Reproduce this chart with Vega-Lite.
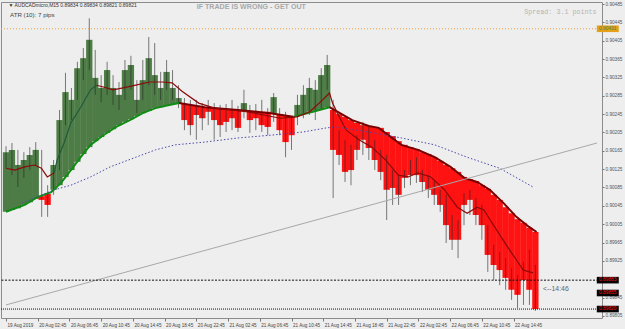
{
  "$schema": "https://vega.github.io/schema/vega-lite/v6.json",
  "width": 601,
  "height": 316,
  "autosize": "none",
  "padding": {"left": 1, "top": 2, "right": 23, "bottom": 11},
  "background": "#EEEEEE",
  "config": {
    "view": {"stroke": "#8C8C8C", "strokeWidth": 1, "fill": "#EEEEEE"},
    "font": "Liberation Sans",
    "axis": {"labelOverlap": false, "labelFlush": false, "domain": false, "grid": false, "title": null, "tickColor": "#777777", "labelBound": false, "tickCount": 100},
    "axisX": {"tickSize": 3, "labelFontSize": 4.6, "labelColor": "#444444", "labelAlign": "left", "labelOffset": 1, "labelPadding": 1},
    "axisY": {"tickSize": 2, "labelFontSize": 4.7, "labelColor": "#555555", "labelPadding": 1}
  },
  "datasets": {
    "candles": [
      {"t":0,"close":0.90162,"high":0.90175,"low":0.90127,"slow":0.90032,"dir":"up"},
      {"t":0.75,"close":0.90167,"high":0.90182,"low":0.90112,"slow":0.90036,"dir":"up"},
      {"t":1.5,"close":0.90134,"high":0.90167,"low":0.90086,"slow":0.90040,"dir":"up"},
      {"t":2.25,"close":0.90145,"high":0.90162,"low":0.90106,"slow":0.90047,"dir":"up"},
      {"t":3,"close":0.90156,"high":0.90173,"low":0.90123,"slow":0.90053,"dir":"up"},
      {"t":3.75,"close":0.90167,"high":0.90184,"low":0.90134,"slow":0.90060,"dir":"up"},
      {"t":4.5,"close":0.90058,"high":0.90167,"low":0.90021,"slow":0.90066,"dir":"down"},
      {"t":5.25,"close":0.90047,"high":0.90090,"low":0.90021,"slow":0.90071,"dir":"down"},
      {"t":6,"close":0.90134,"high":0.90145,"low":0.90069,"slow":0.90080,"dir":"up"},
      {"t":6.75,"close":0.90232,"high":0.90254,"low":0.90123,"slow":0.90090,"dir":"up"},
      {"t":7.5,"close":0.90293,"high":0.90335,"low":0.90221,"slow":0.90108,"dir":"up"},
      {"t":8.25,"close":0.90276,"high":0.90302,"low":0.90232,"slow":0.90123,"dir":"up"},
      {"t":9,"close":0.90345,"high":0.90359,"low":0.90276,"slow":0.90141,"dir":"up"},
      {"t":9.75,"close":0.90367,"high":0.90389,"low":0.90319,"slow":0.90158,"dir":"up"},
      {"t":10.5,"close":0.90407,"high":0.90454,"low":0.90341,"slow":0.90173,"dir":"up"},
      {"t":11.25,"close":0.90324,"high":0.90385,"low":0.90287,"slow":0.90186,"dir":"up"},
      {"t":12,"close":0.90302,"high":0.90330,"low":0.90271,"slow":0.90195,"dir":"up"},
      {"t":12.75,"close":0.90341,"high":0.90359,"low":0.90287,"slow":0.90204,"dir":"up"},
      {"t":13.5,"close":0.90302,"high":0.90330,"low":0.90265,"slow":0.90212,"dir":"up"},
      {"t":14.25,"close":0.90287,"high":0.90315,"low":0.90254,"slow":0.90221,"dir":"up"},
      {"t":15,"close":0.90341,"high":0.90363,"low":0.90276,"slow":0.90228,"dir":"up"},
      {"t":15.75,"close":0.90352,"high":0.90372,"low":0.90298,"slow":0.90234,"dir":"up"},
      {"t":16.5,"close":0.90276,"high":0.90319,"low":0.90247,"slow":0.90241,"dir":"up"},
      {"t":17.25,"close":0.90319,"high":0.90363,"low":0.90276,"slow":0.90247,"dir":"up"},
      {"t":18,"close":0.90367,"high":0.90413,"low":0.90308,"slow":0.90252,"dir":"up"},
      {"t":18.75,"close":0.90330,"high":0.90400,"low":0.90287,"slow":0.90258,"dir":"up"},
      {"t":19.5,"close":0.90302,"high":0.90337,"low":0.90276,"slow":0.90260,"dir":"up"},
      {"t":20.25,"close":0.90337,"high":0.90363,"low":0.90298,"slow":0.90263,"dir":"up"},
      {"t":21,"close":0.90302,"high":0.90341,"low":0.90276,"slow":0.90267,"dir":"up"},
      {"t":21.75,"close":0.90280,"high":0.90308,"low":0.90258,"slow":0.90269,"dir":"up"},
      {"t":22.5,"close":0.90232,"high":0.90280,"low":0.90210,"slow":0.90267,"dir":"down"},
      {"t":23.25,"close":0.90221,"high":0.90276,"low":0.90199,"slow":0.90265,"dir":"down"},
      {"t":24,"close":0.90243,"high":0.90276,"low":0.90189,"slow":0.90263,"dir":"down"},
      {"t":24.75,"close":0.90236,"high":0.90269,"low":0.90210,"slow":0.90260,"dir":"down"},
      {"t":25.5,"close":0.90250,"high":0.90276,"low":0.90221,"slow":0.90260,"dir":"down"},
      {"t":26.25,"close":0.90232,"high":0.90269,"low":0.90189,"slow":0.90258,"dir":"down"},
      {"t":27,"close":0.90221,"high":0.90265,"low":0.90195,"slow":0.90258,"dir":"down"},
      {"t":27.75,"close":0.90228,"high":0.90267,"low":0.90206,"slow":0.90256,"dir":"down"},
      {"t":28.5,"close":0.90236,"high":0.90276,"low":0.90210,"slow":0.90256,"dir":"down"},
      {"t":29.25,"close":0.90215,"high":0.90263,"low":0.90206,"slow":0.90254,"dir":"down"},
      {"t":30,"close":0.90269,"high":0.90298,"low":0.90236,"slow":0.90254,"dir":"up"},
      {"t":30.75,"close":0.90232,"high":0.90265,"low":0.90204,"slow":0.90252,"dir":"down"},
      {"t":31.5,"close":0.90236,"high":0.90267,"low":0.90210,"slow":0.90252,"dir":"down"},
      {"t":32.25,"close":0.90221,"high":0.90276,"low":0.90206,"slow":0.90250,"dir":"down"},
      {"t":33,"close":0.90217,"high":0.90258,"low":0.90199,"slow":0.90250,"dir":"down"},
      {"t":33.75,"close":0.90282,"high":0.90291,"low":0.90228,"slow":0.90247,"dir":"up"},
      {"t":34.5,"close":0.90210,"high":0.90258,"low":0.90199,"slow":0.90245,"dir":"down"},
      {"t":35.25,"close":0.90184,"high":0.90250,"low":0.90151,"slow":0.90243,"dir":"down"},
      {"t":36,"close":0.90199,"high":0.90236,"low":0.90167,"slow":0.90239,"dir":"down"},
      {"t":36.75,"close":0.90265,"high":0.90287,"low":0.90221,"slow":0.90241,"dir":"up"},
      {"t":37.5,"close":0.90287,"high":0.90308,"low":0.90236,"slow":0.90245,"dir":"up"},
      {"t":38.25,"close":0.90302,"high":0.90324,"low":0.90243,"slow":0.90250,"dir":"up"},
      {"t":39,"close":0.90298,"high":0.90319,"low":0.90232,"slow":0.90252,"dir":"up"},
      {"t":39.75,"close":0.90330,"high":0.90345,"low":0.90254,"slow":0.90256,"dir":"up"},
      {"t":40.5,"close":0.90352,"high":0.90374,"low":0.90298,"slow":0.90260,"dir":"up"},
      {"t":41.25,"close":0.90167,"high":0.90276,"low":0.90062,"slow":0.90254,"dir":"down"},
      {"t":42,"close":0.90156,"high":0.90210,"low":0.90134,"slow":0.90245,"dir":"down"},
      {"t":42.75,"close":0.90119,"high":0.90189,"low":0.90097,"slow":0.90239,"dir":"down"},
      {"t":43.5,"close":0.90123,"high":0.90178,"low":0.90090,"slow":0.90232,"dir":"down"},
      {"t":44.25,"close":0.90167,"high":0.90199,"low":0.90145,"slow":0.90226,"dir":"down"},
      {"t":45,"close":0.90189,"high":0.90228,"low":0.90156,"slow":0.90221,"dir":"down"},
      {"t":45.75,"close":0.90171,"high":0.90221,"low":0.90145,"slow":0.90219,"dir":"down"},
      {"t":46.5,"close":0.90145,"high":0.90189,"low":0.90123,"slow":0.90217,"dir":"down"},
      {"t":47.25,"close":0.90119,"high":0.90167,"low":0.90101,"slow":0.90215,"dir":"down"},
      {"t":48,"close":0.90080,"high":0.90156,"low":0.90014,"slow":0.90206,"dir":"down"},
      {"t":48.75,"close":0.90084,"high":0.90123,"low":0.90047,"slow":0.90197,"dir":"down"},
      {"t":49.5,"close":0.90069,"high":0.90112,"low":0.90047,"slow":0.90186,"dir":"down"},
      {"t":50.25,"close":0.90106,"high":0.90123,"low":0.90084,"slow":0.90178,"dir":"down"},
      {"t":51,"close":0.90112,"high":0.90145,"low":0.90090,"slow":0.90173,"dir":"down"},
      {"t":51.75,"close":0.90112,"high":0.90151,"low":0.90095,"slow":0.90169,"dir":"down"},
      {"t":52.5,"close":0.90097,"high":0.90123,"low":0.90075,"slow":0.90162,"dir":"down"},
      {"t":53.25,"close":0.90080,"high":0.90112,"low":0.90062,"slow":0.90158,"dir":"down"},
      {"t":54,"close":0.90069,"high":0.90101,"low":0.90047,"slow":0.90151,"dir":"down"},
      {"t":54.75,"close":0.90047,"high":0.90080,"low":0.90032,"slow":0.90143,"dir":"down"},
      {"t":55.5,"close":0.90003,"high":0.90069,"low":0.89964,"slow":0.90134,"dir":"down"},
      {"t":56.25,"close":0.89971,"high":0.90025,"low":0.89949,"slow":0.90127,"dir":"down"},
      {"t":57,"close":0.89971,"high":0.90014,"low":0.89931,"slow":0.90119,"dir":"down"},
      {"t":57.75,"close":0.90047,"high":0.90073,"low":0.90003,"slow":0.90108,"dir":"down"},
      {"t":58.5,"close":0.90058,"high":0.90080,"low":0.90025,"slow":0.90103,"dir":"down"},
      {"t":59.25,"close":0.90025,"high":0.90062,"low":0.90003,"slow":0.90099,"dir":"down"},
      {"t":60,"close":0.90003,"high":0.90047,"low":0.89971,"slow":0.90090,"dir":"down"},
      {"t":60.75,"close":0.89938,"high":0.90003,"low":0.89901,"slow":0.90082,"dir":"down"},
      {"t":61.5,"close":0.89916,"high":0.89960,"low":0.89883,"slow":0.90069,"dir":"down"},
      {"t":62.25,"close":0.89905,"high":0.89944,"low":0.89872,"slow":0.90058,"dir":"down"},
      {"t":63,"close":0.89888,"high":0.89931,"low":0.89862,"slow":0.90042,"dir":"down"},
      {"t":63.75,"close":0.89862,"high":0.89909,"low":0.89840,"slow":0.90029,"dir":"down"},
      {"t":64.5,"close":0.89851,"high":0.89894,"low":0.89822,"slow":0.90016,"dir":"down"},
      {"t":65.25,"close":0.89883,"high":0.89923,"low":0.89829,"slow":0.90008,"dir":"down"},
      {"t":66,"close":0.89862,"high":0.89949,"low":0.89829,"slow":0.89997,"dir":"down"},
      {"t":66.75,"close":0.89820,"high":0.89916,"low":0.89816,"slow":0.89988,"dir":"down"}
    ],
    "slowUp": [
      {"t":0,"p":0.90032,"seg":"a"},{"t":2.36,"p":0.90047,"seg":"a"},{"t":3.97,"p":0.90064,"seg":"a"},
      {"t":5.70,"p":0.90075,"seg":"a"},{"t":6.94,"p":0.90095,"seg":"a"},{"t":8.18,"p":0.90123,"seg":"a"},
      {"t":9.42,"p":0.90151,"seg":"a"},{"t":10.66,"p":0.90178,"seg":"a"},{"t":12.28,"p":0.90199,"seg":"a"},
      {"t":13.89,"p":0.90217,"seg":"a"},{"t":15.62,"p":0.90232,"seg":"a"},{"t":17.24,"p":0.90247,"seg":"a"},
      {"t":18.85,"p":0.90258,"seg":"a"},{"t":20.58,"p":0.90265,"seg":"a"},{"t":21.82,"p":0.90269,"seg":"a"},
      {"t":36.21,"p":0.90239,"seg":"c"},{"t":38.69,"p":0.90250,"seg":"c"},{"t":40.79,"p":0.90260,"seg":"c"}
    ],
    "slowDown": [
      {"t":21.82,"p":0.90269,"seg":"b"},{"t":25.05,"p":0.90260,"seg":"b"},{"t":29.26,"p":0.90254,"seg":"b"},
      {"t":33.35,"p":0.90247,"seg":"b"},{"t":36.21,"p":0.90239,"seg":"b"},
      {"t":40.79,"p":0.90260,"seg":"d"},{"t":43.65,"p":0.90232,"seg":"d"},{"t":45.75,"p":0.90219,"seg":"d"},
      {"t":46.99,"p":0.90215,"seg":"d"},{"t":49.85,"p":0.90178,"seg":"d"},{"t":51.95,"p":0.90167,"seg":"d"},
      {"t":54.06,"p":0.90151,"seg":"d"},{"t":56.04,"p":0.90130,"seg":"d"},{"t":57.78,"p":0.90106,"seg":"d"},
      {"t":59.39,"p":0.90097,"seg":"d"},{"t":61.0,"p":0.90080,"seg":"d"},{"t":62.74,"p":0.90051,"seg":"d"},
      {"t":64.35,"p":0.90021,"seg":"d"},{"t":65.96,"p":0.89999,"seg":"d"},{"t":66.9,"p":0.89988,"seg":"d"}
    ],
    "fastRed": [
      {"t":0,"p":0.90127,"seg":"a"},{"t":1.12,"p":0.90123,"seg":"a"},{"t":2.36,"p":0.90130,"seg":"a"},
      {"t":3.60,"p":0.90134,"seg":"a"},{"t":4.46,"p":0.90127,"seg":"a"},{"t":5.21,"p":0.90108,"seg":"a"},
      {"t":6.08,"p":0.90117,"seg":"a"},
      {"t":11.41,"p":0.90308,"seg":"b"},{"t":12.28,"p":0.90304,"seg":"b"},{"t":13.52,"p":0.90298,"seg":"b"},
      {"t":14.76,"p":0.90302,"seg":"b"},{"t":16.37,"p":0.90308,"seg":"b"},{"t":18.10,"p":0.90315,"seg":"b"},
      {"t":19.71,"p":0.90315,"seg":"b"},{"t":20.95,"p":0.90313,"seg":"b"},{"t":22.19,"p":0.90295,"seg":"b"},
      {"t":24.30,"p":0.90269,"seg":"b"},{"t":26.29,"p":0.90258,"seg":"b"},{"t":28.39,"p":0.90254,"seg":"b"},
      {"t":30.50,"p":0.90250,"seg":"b"},{"t":32.49,"p":0.90243,"seg":"b"},{"t":34.59,"p":0.90236,"seg":"b"},
      {"t":36.70,"p":0.90239,"seg":"b"},{"t":38.31,"p":0.90250,"seg":"b"},{"t":39.93,"p":0.90276,"seg":"b"},
      {"t":40.79,"p":0.90291,"seg":"b"},{"t":41.17,"p":0.90269,"seg":"b"},{"t":42.03,"p":0.90239,"seg":"b"},
      {"t":42.90,"p":0.90210,"seg":"b"},{"t":44.51,"p":0.90189,"seg":"b"},{"t":46.13,"p":0.90173,"seg":"b"},
      {"t":47.86,"p":0.90145,"seg":"b"},{"t":49.47,"p":0.90112,"seg":"b"},{"t":50.71,"p":0.90108,"seg":"b"},
      {"t":51.95,"p":0.90117,"seg":"b"},{"t":53.57,"p":0.90108,"seg":"b"},{"t":55.30,"p":0.90080,"seg":"b"},
      {"t":56.91,"p":0.90042,"seg":"b"},{"t":58.15,"p":0.90029,"seg":"b"},{"t":59.39,"p":0.90042,"seg":"b"},
      {"t":60.26,"p":0.90036,"seg":"b"},{"t":61.87,"p":0.89992,"seg":"b"},{"t":63.49,"p":0.89949,"seg":"b"},
      {"t":65.22,"p":0.89905,"seg":"b"},{"t":66.46,"p":0.89899,"seg":"b"}
    ],
    "fastGreen": [
      {"t":6.08,"p":0.90117},{"t":6.45,"p":0.90145},{"t":7.32,"p":0.90182},{"t":8.18,"p":0.90226},
      {"t":9.42,"p":0.90260},{"t":10.66,"p":0.90298},{"t":11.41,"p":0.90308}
    ],
    "ma200": [
      {"t":1.98,"p":0.90051},{"t":6.08,"p":0.90080},{"t":8.18,"p":0.90090},{"t":10.66,"p":0.90108},
      {"t":13.14,"p":0.90130},{"t":16.37,"p":0.90151},{"t":18.85,"p":0.90167},{"t":21.33,"p":0.90178},
      {"t":25.05,"p":0.90184},{"t":29.26,"p":0.90193},{"t":33.35,"p":0.90199},{"t":37.45,"p":0.90206},
      {"t":40.42,"p":0.90215},{"t":41.66,"p":0.90217},{"t":45.75,"p":0.90206},{"t":49.85,"p":0.90193},
      {"t":54.06,"p":0.90178},{"t":58.15,"p":0.90151},{"t":62.24,"p":0.90127},{"t":66.46,"p":0.90086}
    ],
    "trend": [{"t":0,"p":0.89829},{"t":74.52,"p":0.90182}],
    "priceTags": [
      {"p": 0.90431, "kind": "mark"},
      {"p": 0.89883, "kind": "line"},
      {"p": 0.89855, "kind": "line"},
      {"p": 0.89820, "kind": "line"}
    ]
  },
  "layer": [
    {
      "data": {"name": "candles"},
      "mark": {"type": "bar", "width": 6.3},
      "encoding": {
        "x": {"field": "t", "type": "quantitative", "scale": {"domain": [0, 74.52], "nice": false, "zero": false},
          "axis": {
            "values": [0,4,8,12,16,20,24,28,32,36,40,44,48,52,56,60,64],
            "labelExpr": "['19 Aug 2019','20 Aug 02:45','20 Aug 06:45','20 Aug 10:45','20 Aug 14:45','20 Aug 18:45','20 Aug 22:45','21 Aug 02:45','21 Aug 06:45','21 Aug 10:45','21 Aug 14:45','21 Aug 18:45','21 Aug 22:45','22 Aug 02:45','22 Aug 06:45','22 Aug 10:45','22 Aug 14:45'][round(datum.value/4)]",
            "labelOverlap": false, "tickCount": 100
          }},
        "y": {"field": "slow", "type": "quantitative", "scale": {"domain": [0.898005, 0.904894], "nice": false, "zero": false},
          "axis": {
            "orient": "right",
            "values": [0.89805,0.89845,0.89925,0.89965,0.90005,0.90045,0.90085,0.90125,0.90165,0.90205,0.90245,0.90285,0.90325,0.90365,0.90405,0.90445,0.90485],
            "format": ".5f",
            "labelOverlap": false, "tickCount": 100
          }},
        "y2": {"field": "close"},
        "color": {"field": "dir", "type": "nominal", "scale": {"domain": ["up", "down"], "range": ["#4E7C46", "#FF1212"]}, "legend": null}
      }
    },
    {
      "data": {"name": "candles"},
      "mark": {"type": "rule", "color": "#262626", "strokeWidth": 1, "opacity": 0.6},
      "encoding": {
        "x": {"field": "t", "type": "quantitative"},
        "y": {"field": "low", "type": "quantitative"},
        "y2": {"field": "high"}
      }
    },
    {
      "data": {"name": "slowUp"},
      "mark": {"type": "line", "color": "#0E8C14", "strokeWidth": 2},
      "encoding": {
        "x": {"field": "t", "type": "quantitative"},
        "y": {"field": "p", "type": "quantitative"},
        "detail": {"field": "seg"}
      }
    },
    {
      "data": {"name": "slowDown"},
      "mark": {"type": "line", "color": "#780000", "strokeWidth": 2},
      "encoding": {
        "x": {"field": "t", "type": "quantitative"},
        "y": {"field": "p", "type": "quantitative"},
        "detail": {"field": "seg"}
      }
    },
    {
      "data": {"name": "fastRed"},
      "mark": {"type": "line", "color": "#8B0A0A", "strokeWidth": 1.2},
      "encoding": {
        "x": {"field": "t", "type": "quantitative"},
        "y": {"field": "p", "type": "quantitative"},
        "detail": {"field": "seg"}
      }
    },
    {
      "data": {"name": "fastGreen"},
      "mark": {"type": "line", "color": "#1F5A3C", "strokeWidth": 1.2},
      "encoding": {
        "x": {"field": "t", "type": "quantitative"},
        "y": {"field": "p", "type": "quantitative"}
      }
    },
    {
      "data": {"name": "ma200"},
      "mark": {"type": "line", "color": "#4A4AA8", "strokeWidth": 1, "strokeDash": [1.5, 2]},
      "encoding": {
        "x": {"field": "t", "type": "quantitative"},
        "y": {"field": "p", "type": "quantitative"}
      }
    },
    {
      "data": {"name": "trend"},
      "mark": {"type": "line", "color": "#A8A8A8", "strokeWidth": 1},
      "encoding": {
        "x": {"field": "t", "type": "quantitative"},
        "y": {"field": "p", "type": "quantitative"}
      }
    },
    {
      "data": {"values": [{"p": 0.90431}]},
      "mark": {"type": "rule", "color": "#E8A040", "strokeWidth": 1, "strokeDash": [1, 2]},
      "encoding": {"y": {"field": "p", "type": "quantitative"}}
    },
    {
      "data": {"values": [{"p": 0.89883}]},
      "mark": {"type": "rule", "color": "#111111", "strokeWidth": 1, "strokeDash": [2, 1.5]},
      "encoding": {"y": {"field": "p", "type": "quantitative"}}
    },
    {
      "data": {"values": [{"p": 0.89820}]},
      "mark": {"type": "rule", "color": "#111111", "strokeWidth": 1, "strokeDash": [1, 1]},
      "encoding": {"y": {"field": "p", "type": "quantitative"}}
    },
    {
      "data": {"name": "priceTags"},
      "mark": {"type": "point", "shape": "M-1,-0.3H1V0.3H-1Z", "filled": true, "opacity": 1, "size": 484, "clip": false},
      "encoding": {
        "x": {"datum": 75.88, "type": "quantitative"},
        "y": {"field": "p", "type": "quantitative"},
        "fill": {"field": "kind", "type": "nominal", "scale": {"domain": ["mark", "line"], "range": ["#E3A21A", "#050505"]}, "legend": null}
      }
    },
    {
      "data": {"name": "priceTags"},
      "mark": {"type": "text", "fontSize": 4.8, "align": "center", "baseline": "middle", "clip": false},
      "encoding": {
        "x": {"datum": 75.88, "type": "quantitative"},
        "y": {"field": "p", "type": "quantitative"},
        "text": {"field": "p", "type": "quantitative", "format": ".5f"},
        "color": {"field": "kind", "type": "nominal", "scale": {"domain": ["mark", "line"], "range": ["#3A2A00", "#FFFFFF"]}, "legend": null}
      }
    },
    {
      "data": {"values": [{}]},
      "mark": {"type": "text", "text": "▼ AUDCADmicro,M15  0.89834 0.89834 0.89821 0.89821", "fontSize": 5, "align": "left", "baseline": "middle", "color": "#333333"},
      "encoding": {"x": {"datum": 0.3, "type": "quantitative"}, "y": {"datum": 0.90483, "type": "quantitative"}}
    },
    {
      "data": {"values": [{}]},
      "mark": {"type": "text", "text": "ATR (10): 7 pips", "fontSize": 6.2, "align": "left", "baseline": "middle", "color": "#444444"},
      "encoding": {"x": {"datum": 0.5, "type": "quantitative"}, "y": {"datum": 0.90461, "type": "quantitative"}}
    },
    {
      "data": {"values": [{}]},
      "mark": {"type": "text", "text": "IF TRADE IS WRONG - GET OUT", "fontSize": 7.1, "fontWeight": "bold", "align": "left", "baseline": "middle", "color": "#A8A8A8"},
      "encoding": {"x": {"datum": 24.05, "type": "quantitative"}, "y": {"datum": 0.90479, "type": "quantitative"}}
    },
    {
      "data": {"values": [{}]},
      "mark": {"type": "text", "text": "Spread: 3.1 points", "font": "Liberation Mono", "fontSize": 6.7, "align": "left", "baseline": "middle", "color": "#B5B5B5"},
      "encoding": {"x": {"datum": 65.35, "type": "quantitative"}, "y": {"datum": 0.90468, "type": "quantitative"}}
    },
    {
      "data": {"values": [{}]},
      "mark": {"type": "text", "text": "<--14:46", "fontSize": 6.9, "align": "left", "baseline": "middle", "color": "#666666"},
      "encoding": {"x": {"datum": 67.7, "type": "quantitative"}, "y": {"datum": 0.89864, "type": "quantitative"}}
    }
  ]
}
